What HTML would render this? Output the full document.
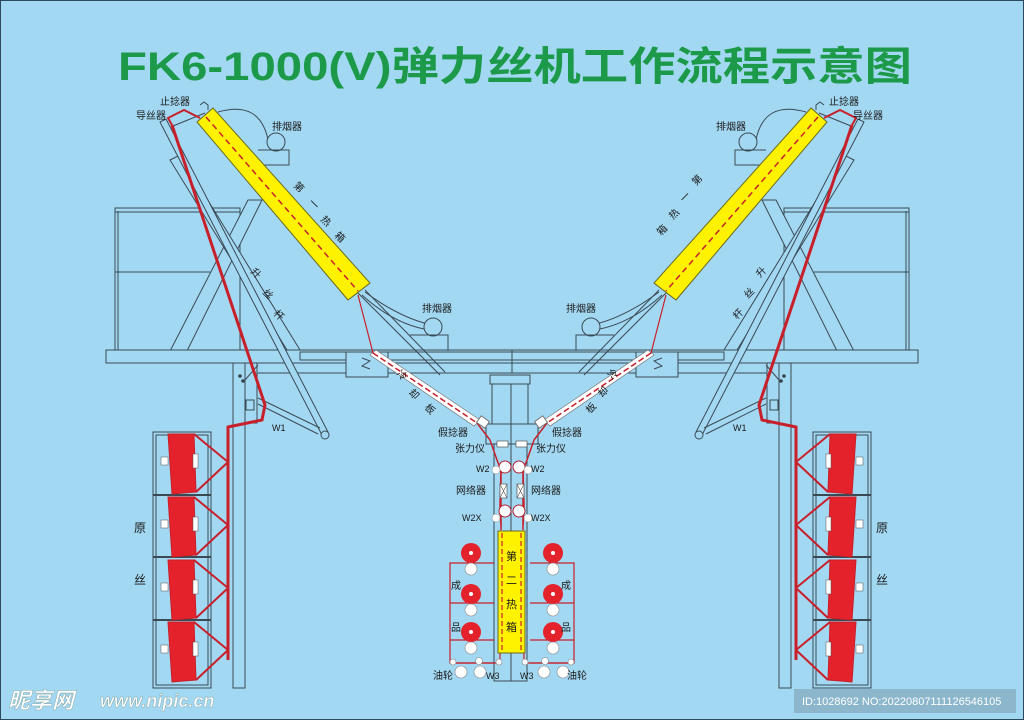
<!DOCTYPE html>
<html><head><meta charset="utf-8"><style>
html,body{margin:0;padding:0;background:#a3d8f3;}
svg{display:block}
text{font-family:"Liberation Sans","Noto Sans CJK SC",sans-serif;fill:#1a1a1a}
</style></head><body>
<svg width="1024" height="720" viewBox="0 0 1024 720" xmlns="http://www.w3.org/2000/svg">
<rect x="0" y="0" width="1024" height="720" fill="#a3d8f3"/>
<rect x="0.5" y="0.5" width="1023" height="719" fill="none" stroke="#2d4a5a" stroke-width="1"/>
<text x="118" y="80" font-size="40" font-weight="bold" style="fill:#1c9a4a" textLength="794" lengthAdjust="spacingAndGlyphs">FK6-1000(V)弹力丝机工作流程示意图</text>

<defs>
<g id="half" fill="none" stroke="#3a4a55" stroke-width="1">
  <!-- frame box -->
  <rect x="115" y="208" width="125" height="142"/>
  <line x1="118" y1="211" x2="118" y2="350"/>
  <line x1="115" y1="272" x2="210" y2="272"/>
  <line x1="115" y1="212" x2="240" y2="212"/>
  <!-- X legs -->
  <polygon points="168,355 185,355 262,200 248,200" fill="#a3d8f3"/>
  <polygon points="170,160 180,155 300,350 287,350" fill="#a3d8f3"/>
  <!-- beam -->
  <rect x="106" y="350" width="406" height="13" fill="#a3d8f3"/>
  <rect x="300" y="352" width="212" height="8" fill="#a3d8f3"/>
  <rect x="233" y="363" width="279" height="10" fill="#a3d8f3"/>
  <rect x="346" y="352" width="42" height="25" fill="#a3d8f3"/>
  <path d="M362,358 l8,3 l-8,5 l8,3" />
  <!-- post -->
  <rect x="233" y="363" width="12" height="325" fill="#a3d8f3"/>
  <rect x="245" y="363" width="12" height="60" fill="#a3d8f3"/>
  <line x1="245" y1="380" x2="258" y2="365"/>
  <circle cx="240" cy="376" r="1.3" fill="#333"/><circle cx="243" cy="381" r="1.3" fill="#333"/>
  <!-- lifting rod -->
  <polygon points="160,122 166,119 328,432 322,435" fill="#a3d8f3"/>
  <circle cx="325" cy="435" r="4" fill="#a3d8f3"/>
  <line x1="258" y1="398" x2="320" y2="428"/>
  <line x1="258" y1="404" x2="318" y2="434"/>
  <rect x="246" y="400" width="8" height="10" fill="#a3d8f3"/>
  <!-- stop twister arm -->
  <line x1="173" y1="126" x2="205" y2="113"/>
  <path d="M200,105 l4,-3 l4,3 v5" />
  <!-- smoke exhausters -->
  <path d="M218,112 Q260,100 268,140"/>
  <circle cx="276" cy="142" r="9" fill="#a3d8f3"/>
  <path d="M258,150 h31 v15 h-31"/>
  <path d="M365,292 Q400,318 432,325"/>
  <path d="M362,295 Q395,325 430,330"/>
  <circle cx="433" cy="327" r="9" fill="#a3d8f3"/>
  <path d="M410,335 h38 v16" />
  <!-- cooling plate support lines -->
  <line x1="355" y1="290" x2="440" y2="375"/>
  <line x1="365" y1="290" x2="445" y2="372"/>
  <!-- creel -->
  <rect x="153" y="432" width="58" height="256" fill="#a3d8f3"/>
  <rect x="156" y="435" width="52" height="250"/>
  <line x1="153" y1="495" x2="211" y2="495" stroke-width="2"/>
  <line x1="153" y1="557" x2="211" y2="557" stroke-width="2"/>
  <line x1="153" y1="620" x2="211" y2="620" stroke-width="2"/>
</g>
<g id="spool">
  <polygon points="168,-28 194,-28 196,30 172,32" fill="#e3222c"/>
  <rect x="161" y="-5" width="7" height="8" fill="#fff" stroke="#555" stroke-width="0.5"/>
  <rect x="193" y="-8" width="5" height="14" fill="#fff" stroke="#555" stroke-width="0.5"/>
  <path d="M194,-28 L228,0 L196,30" fill="none" stroke="#c8202a" stroke-width="2"/>
</g>
<g id="halfred" fill="none" stroke="#c8202a">
  <!-- thread -->
  <path d="M172,125 L168,118 L184,110 L200,118" stroke-width="2"/>
  <path d="M172,125 L265,405 L262,420 L228,427 L228,660" stroke-width="3"/>
  <!-- heat box -->
  <polygon points="197,122 213,108 370,283 348,300" fill="#fef200" stroke="#6a6a20" stroke-width="1"/>
  <line x1="206" y1="117" x2="358" y2="291" stroke-dasharray="6,4" stroke-width="1.5"/>
  <!-- cooling plate -->
  <polygon points="370,355 376,350 480,420 474,426" fill="#ffffff" stroke="#777" stroke-width="0.7"/>
  <line x1="358" y1="295" x2="373" y2="353" stroke-width="1.2"/>
  <line x1="373" y1="353" x2="477" y2="423" stroke-dasharray="6,3" stroke-width="1.5"/>
  <path d="M477,423 L490,440 L497,460 L501,470 L500,505 L501,525" stroke-width="1.5"/>
  <!-- spools -->
  <use href="#spool" transform="translate(0,462)"/>
  <use href="#spool" transform="translate(0,525)"/>
  <use href="#spool" transform="translate(0,588)"/>
  <use href="#spool" transform="translate(0,650)"/>
  <!-- product frames -->
  <path d="M494,663 L450,663 L450,563 L494,563 M450,603 L494,603 M450,640 L494,640" stroke-width="1.2"/>
  <path d="M450,663 L500,663 L500,650" stroke-width="1.2"/>
  <!-- twister -->
  <rect x="478" y="418" width="10" height="8" fill="#fff" stroke="#777" transform="rotate(35 483 422)"/>
</g>
<g id="halfw">
  <rect x="497" y="441" width="11" height="6" fill="#fff" stroke="#555" stroke-width="0.7"/>
  <circle cx="505" cy="467" r="6" fill="#fff" stroke="#b02030"/>
  <circle cx="496" cy="470" r="4" fill="#fff" stroke="#888" stroke-width="0.5"/>
  <rect x="500" y="484" width="7" height="14" fill="#fff" stroke="#555" stroke-width="0.7"/>
  <path d="M500,484 l7,14 M507,484 l-7,14" stroke="#555" stroke-width="0.6"/>
  <circle cx="505" cy="511" r="6" fill="#fff" stroke="#b02030"/>
  <circle cx="496" cy="518" r="4" fill="#fff" stroke="#888" stroke-width="0.5"/>
  <g fill="#e3222c">
    <circle cx="471" cy="553" r="10"/><circle cx="471" cy="594" r="10"/><circle cx="471" cy="632" r="10"/>
  </g>
  <g fill="#fff"><circle cx="471" cy="553" r="2"/><circle cx="471" cy="594" r="2"/><circle cx="471" cy="632" r="2"/></g>
  <g fill="#fff" stroke="#888" stroke-width="0.6">
    <circle cx="471" cy="569" r="6"/><circle cx="471" cy="610" r="6"/><circle cx="471" cy="648" r="6"/>
    <circle cx="453" cy="662" r="3"/><circle cx="479" cy="661" r="3.5"/><circle cx="499" cy="662" r="3"/>
    <circle cx="461" cy="672" r="6"/><circle cx="480" cy="672" r="6"/>
  </g>
</g>
</defs>

<use href="#half"/>
<use href="#half" transform="translate(1024,0) scale(-1,1)"/>

<!-- center column -->
<g fill="#a3d8f3" stroke="#3a4a55" stroke-width="1">
  <rect x="490" y="375" width="40" height="9"/>
  <rect x="492" y="384" width="36" height="40"/>
  <rect x="486" y="424" width="52" height="20"/>
  <rect x="494" y="444" width="33" height="237"/>
  <line x1="511" y1="384" x2="511" y2="681"/>
</g>
<use href="#halfred"/>
<use href="#halfred" transform="translate(1024,0) scale(-1,1)"/>
<path d="M501,470 L501,530 M523,470 L523,530" stroke="#c8202a" stroke-width="1.5" fill="none"/>
<rect x="498" y="531" width="27" height="122" fill="#fef200" stroke="#6a6a20"/>
<line x1="502" y1="533" x2="502" y2="651" stroke="#c8202a" stroke-dasharray="5,3" stroke-width="1.2"/>
<line x1="521" y1="533" x2="521" y2="651" stroke="#c8202a" stroke-dasharray="5,3" stroke-width="1.2"/>
<use href="#halfw"/>
<use href="#halfw" transform="translate(1024,0) scale(-1,1)"/>

<g font-size="10">
  <text x="160" y="105">止捻器</text>
  <text x="136" y="119">导丝器</text>
  <text x="272" y="130">排烟器</text>
  <text x="422" y="312">排烟器</text>
  <text x="272" y="431" font-size="9">W1</text>
  <text x="438" y="436">假捻器</text>
  <text x="455" y="452">张力仪</text>
  <text x="476" y="472" font-size="9">W2</text>
  <text x="456" y="494">网络器</text>
  <text x="462" y="521" font-size="9">W2X</text>
  <text x="451" y="589">成</text>
  <text x="451" y="631">品</text>
  <text x="433" y="679">油轮</text>
  <text x="486" y="679" font-size="9">W3</text>

  <text x="829" y="105">止捻器</text>
  <text x="853" y="119">导丝器</text>
  <text x="716" y="130">排烟器</text>
  <text x="566" y="312">排烟器</text>
  <text x="733" y="431" font-size="9">W1</text>
  <text x="552" y="436">假捻器</text>
  <text x="536" y="452">张力仪</text>
  <text x="531" y="472" font-size="9">W2</text>
  <text x="531" y="494">网络器</text>
  <text x="531" y="521" font-size="9">W2X</text>
  <text x="561" y="589">成</text>
  <text x="561" y="631">品</text>
  <text x="567" y="679">油轮</text>
  <text x="520" y="679" font-size="9">W3</text>

  <text x="134" y="532" font-size="12">原</text>
  <text x="134" y="584" font-size="12">丝</text>
  <text x="876" y="532" font-size="12">原</text>
  <text x="876" y="584" font-size="12">丝</text>

  <text x="506" y="560" font-size="11">第</text>
  <text x="506" y="584" font-size="11">二</text>
  <text x="506" y="608" font-size="11">热</text>
  <text x="506" y="631" font-size="11">箱</text>

  <text transform="translate(293,186) rotate(45)">第</text>
  <text transform="translate(308,203) rotate(45)">一</text>
  <text transform="translate(320,220) rotate(45)">热</text>
  <text transform="translate(334,236) rotate(45)">箱</text>
  <text transform="translate(696,186) rotate(-45)">第</text>
  <text transform="translate(684,203) rotate(-45)">一</text>
  <text transform="translate(673,220) rotate(-45)">热</text>
  <text transform="translate(661,236) rotate(-45)">箱</text>
  <text transform="translate(250,272) rotate(45)">升</text>
  <text transform="translate(262,293) rotate(45)">丝</text>
  <text transform="translate(273,314) rotate(45)">杆</text>
  <text transform="translate(760,278) rotate(-45)">升</text>
  <text transform="translate(748,299) rotate(-45)">丝</text>
  <text transform="translate(737,320) rotate(-45)">杆</text>
  <text transform="translate(396,374) rotate(45)">冷</text>
  <text transform="translate(408,393) rotate(45)">却</text>
  <text transform="translate(424,408) rotate(45)">板</text>
  <text transform="translate(612,380) rotate(-45)">冷</text>
  <text transform="translate(602,398) rotate(-45)">却</text>
  <text transform="translate(590,414) rotate(-45)">板</text>
</g>

<text x="8" y="708" font-size="22" font-weight="bold" style="fill:#ffffff;stroke:#8aa;stroke-width:0.5" font-style="italic">昵享网</text>
<text x="100" y="707" font-size="18" font-weight="bold" style="fill:#ffffff;stroke:#8aa;stroke-width:0.5" font-style="italic">www.nipic.cn</text>
<rect x="794" y="689" width="222" height="24" fill="#8bb6cc"/>
<text x="802" y="705" font-size="11" style="fill:#ffffff">ID:1028692 NO:20220807111126546105</text>
</svg>
</body></html>
